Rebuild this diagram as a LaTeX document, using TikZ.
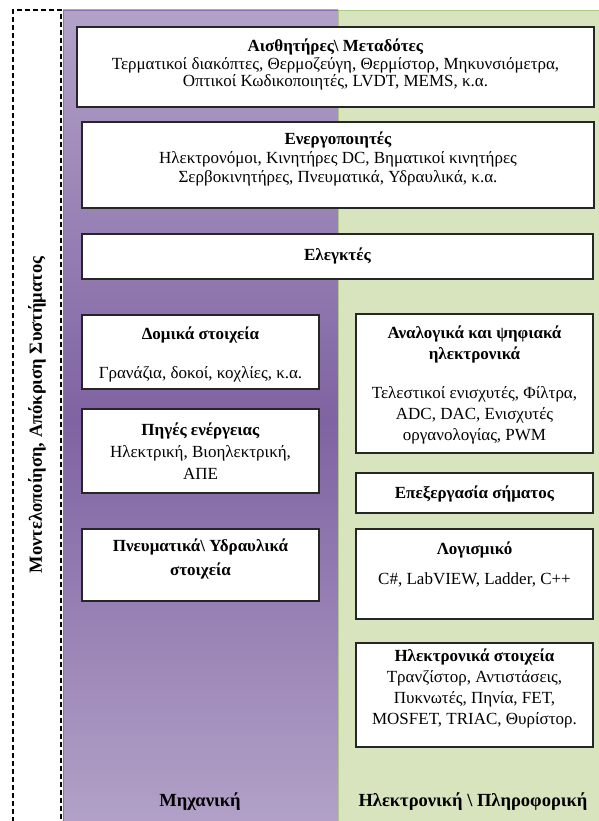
\documentclass[tikz,border=0pt]{standalone}
\usepackage{fontspec}
\setmainfont{Liberation Serif}
\usepackage{tikz}
\definecolor{mechLight}{HTML}{B3A2C8}
\definecolor{mechDark}{HTML}{7F63A2}
\definecolor{mechLine}{HTML}{8A72AA}
\definecolor{elecGreen}{HTML}{D7E4BD}
\definecolor{elecLine}{HTML}{AFC784}
\tikzset {
    style A/.style={
        fill=white,
        draw=black!85,
        line width=1.3pt,
        rectangle, % Set the shape as a rectangle
        inner sep=0pt,
    },
    style B/.style={
        align=center,
        font=\fontsize{17}{21}\selectfont,
        inner sep=0pt,
    },
    style C/.style={
        font=\fontsize{18.5}{20}\selectfont\bfseries,
        inner sep=0pt,
    },
}

\begin{document}
\begin{tikzpicture}
[x=1pt, y=-1pt]
\useasboundingbox (0,0) rectangle (598,821);

% background panels
\shade[top color=mechLight, bottom color=mechLight, middle color=mechDark, draw=mechLine] (63,10) rectangle (338,830);
\filldraw[fill=elecGreen, draw=elecLine] (338,10) rectangle (600,830);
\draw[line width=1.2pt, dash pattern=on 5pt off 3pt] (13,830) -- (13,10) -- (61,10) -- (61,830);

% full width boxes
\node[style A, minimum width=517, minimum height=80] at (335.5,67) (sensors) {};
\node[style B, font=\fontsize{17}{17.5}\selectfont] at (335.5,64.5) (sensorsText)
  {\textbf{Αισθητήρες\textbackslash\ Μεταδότες}\\
   Τερματικοί διακόπτες, Θερμοζεύγη, Θερμίστορ, Μηκυνσιόμετρα,\\
   Οπτικοί Κωδικοποιητές, LVDT, MEMS, κ.α.};
\node[style A, minimum width=512, minimum height=86] at (338,165) (actuators) {};
\node[style B, font=\fontsize{17}{19}\selectfont] at (338,159) (actuatorsText)
  {\textbf{Ενεργοποιητές}\\
   Ηλεκτρονόμοι, Κινητήρες DC, Βηματικοί κινητήρες\\
   Σερβοκινητήρες, Πνευματικά, Υδραυλικά, κ.α.};
\node[style A, minimum width=511, minimum height=45] at (337.5,256.5) (control) {};
\node[style B] at (337.5,256) (controlText) {\textbf{Ελεγκτές}};

% left column
\node[style A, minimum width=237, minimum height=74] at (200.5,352) (struct) {};
\node[style B] at (200.5,354) (structText)
  {\textbf{Δομικά στοιχεία}\\[18pt]
   Γρανάζια, δοκοί, κοχλίες, κ.α.};
\node[style A, minimum width=237, minimum height=84] at (200.5,451) (energy) {};
\node[style B, font=\fontsize{17}{22}\selectfont] at (200.5,451) (energyText)
  {\textbf{Πηγές ενέργειας}\\
   Ηλεκτρική, Βιοηλεκτρική,\\
   ΑΠΕ};
\node[style A, minimum width=237, minimum height=72] at (200.5,565) (fluid) {};
\node[style B, font=\fontsize{17}{24}\selectfont\bfseries] at (200.5,559) (fluidText)
  {Πνευματικά\textbackslash\ Υδραυλικά\\
   στοιχεία};

% right column
\node[style A, minimum width=237, minimum height=139] at (474.5,383.5) (analog) {};
\node[style B] at (474.5,385) (analogText)
  {\textbf{Αναλογικά και ψηφιακά}\\
   \textbf{ηλεκτρονικά}\\[18pt]
   Τελεστικοί ενισχυτές, Φίλτρα,\\
   ADC, DAC, Ενισχυτές\\
   οργανολογίας, PWM};
\node[style A, minimum width=237, minimum height=40] at (474.5,493) (signal) {};
\node[style B] at (474.5,494) (signalText) {\textbf{Επεξεργασία σήματος}};
\node[style A, minimum width=237, minimum height=90] at (474.5,574) (software) {};
\node[style B] at (474.5,564) (softwareText)
  {\textbf{Λογισμικό}\\[9pt]
   C\#, LabVIEW, Ladder, C++};
\node[style A, minimum width=237, minimum height=104] at (474.5,695) (parts) {};
\node[style B] at (474.5,688) (partsText)
  {\textbf{Ηλεκτρονικά στοιχεία}\\
   Τρανζίστορ, Αντιστάσεις,\\
   Πυκνωτές, Πηνία, FET,\\
   MOSFET, TRIAC, Θυρίστορ.};

% column titles
\node[style C] at (200,802) (mech) {Μηχανική};
\node[style C] at (473,802) (elec) {Ηλεκτρονική \textbackslash\ Πληροφορική};
\node[style C, rotate=90] at (37,415) (model) {Μοντελοποίηση, Απόκριση Συστήματος};
\end{tikzpicture}
\end{document}
